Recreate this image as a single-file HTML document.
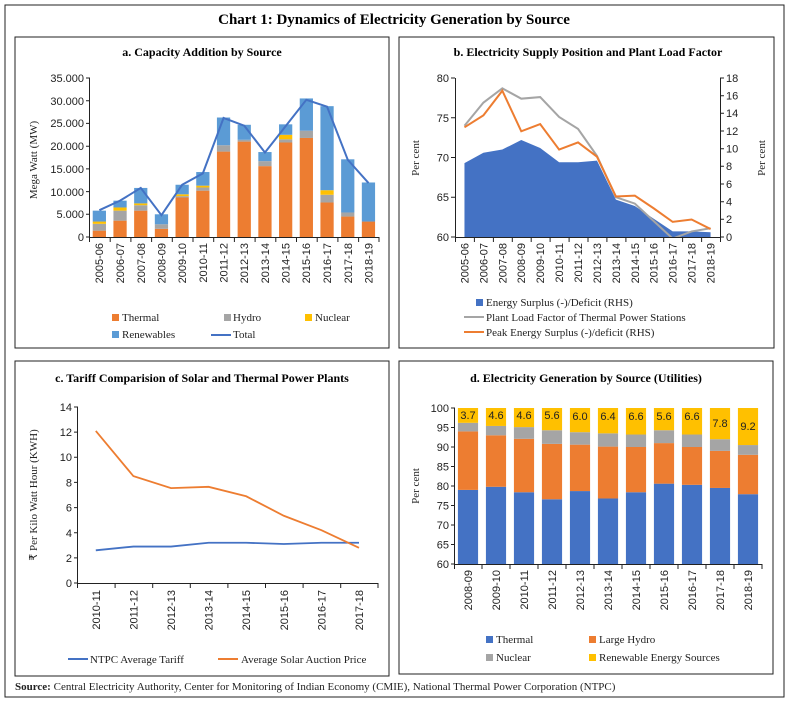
<!DOCTYPE html>
<html><head><meta charset="utf-8"><style>
html,body{margin:0;padding:0;background:#fff;}
svg{display:block;}
.t{font-family:"Liberation Serif",serif;font-weight:bold;}
.s{font-family:"Liberation Sans",sans-serif;font-size:11px;fill:#222;}
.l{font-family:"Liberation Serif",serif;font-size:11px;fill:#222;}
</style></head><body>
<svg width="789" height="703" viewBox="0 0 789 703" xmlns="http://www.w3.org/2000/svg">
<rect x="5" y="5" width="779" height="692" fill="none" stroke="#222" stroke-width="1"/>
<text x="394" y="24" text-anchor="middle" class="t" font-size="15">Chart 1: Dynamics of Electricity Generation by Source</text>
<rect x="15" y="37" width="374" height="311" fill="none" stroke="#222"/>
<rect x="399" y="37" width="375" height="311" fill="none" stroke="#222"/>
<rect x="15" y="361" width="374" height="315" fill="none" stroke="#222"/>
<rect x="399" y="361" width="374" height="313" fill="none" stroke="#222"/>
<text x="15" y="690" class="l"><tspan font-weight="bold">Source:</tspan> Central Electricity Authority, Center for Monitoring of Indian Economy (CMIE), National Thermal Power Corporation (NTPC)</text>

<!-- Panel a -->
<text x="202" y="56" text-anchor="middle" class="t" font-size="12">a. Capacity Addition by Source</text>
<g transform="translate(89,237) scale(20.7,-4.543)">
<g fill="#ED7D31">
<rect x="0.18" y="0" width="0.64" height="1.4"/><rect x="1.18" y="0" width="0.64" height="3.6"/><rect x="2.18" y="0" width="0.64" height="5.8"/><rect x="3.18" y="0" width="0.64" height="1.8"/><rect x="4.18" y="0" width="0.64" height="8.7"/><rect x="5.18" y="0" width="0.64" height="10.2"/><rect x="6.18" y="0" width="0.64" height="18.8"/><rect x="7.18" y="0" width="0.64" height="21.0"/><rect x="8.18" y="0" width="0.64" height="15.6"/><rect x="9.18" y="0" width="0.64" height="20.8"/><rect x="10.18" y="0" width="0.64" height="21.8"/><rect x="11.18" y="0" width="0.64" height="7.6"/><rect x="12.18" y="0" width="0.64" height="4.5"/><rect x="13.18" y="0" width="0.64" height="3.4"/>
</g>
<g fill="#A5A5A5">
<rect x="0.18" y="1.4" width="0.64" height="1.5"/><rect x="1.18" y="3.6" width="0.64" height="2.2"/><rect x="2.18" y="5.8" width="0.64" height="1.2"/><rect x="3.18" y="1.8" width="0.64" height="1.0"/><rect x="4.18" y="8.7" width="0.64" height="0.3"/><rect x="5.18" y="10.2" width="0.64" height="0.7"/><rect x="6.18" y="18.8" width="0.64" height="1.4"/><rect x="7.18" y="21.0" width="0.64" height="0.4"/><rect x="8.18" y="15.6" width="0.64" height="1.1"/><rect x="9.18" y="20.8" width="0.64" height="0.7"/><rect x="10.18" y="21.8" width="0.64" height="1.6"/><rect x="11.18" y="7.6" width="0.64" height="1.7"/><rect x="12.18" y="4.5" width="0.64" height="0.9"/>
</g>
<g fill="#FFC000">
<rect x="0.18" y="2.9" width="0.64" height="0.5"/><rect x="1.18" y="5.8" width="0.64" height="0.7"/><rect x="2.18" y="7.0" width="0.64" height="0.4"/><rect x="4.18" y="9.0" width="0.64" height="0.4"/><rect x="5.18" y="10.9" width="0.64" height="0.4"/><rect x="9.18" y="21.5" width="0.64" height="1.0"/><rect x="11.18" y="9.3" width="0.64" height="1.0"/>
</g>
<g fill="#5B9BD5">
<rect x="0.18" y="3.4" width="0.64" height="2.4"/><rect x="1.18" y="6.5" width="0.64" height="1.5"/><rect x="2.18" y="7.4" width="0.64" height="3.4"/><rect x="3.18" y="2.8" width="0.64" height="2.2"/><rect x="4.18" y="9.4" width="0.64" height="2.1"/><rect x="5.18" y="11.3" width="0.64" height="3.0"/><rect x="6.18" y="20.2" width="0.64" height="6.1"/><rect x="7.18" y="21.4" width="0.64" height="3.3"/><rect x="8.18" y="16.7" width="0.64" height="2.0"/><rect x="9.18" y="22.5" width="0.64" height="2.3"/><rect x="10.18" y="23.4" width="0.64" height="7.1"/><rect x="11.18" y="10.3" width="0.64" height="18.5"/><rect x="12.18" y="5.4" width="0.64" height="11.7"/><rect x="13.18" y="3.4" width="0.64" height="8.6"/>
</g>
<polyline fill="none" stroke="#4472C4" stroke-width="2" vector-effect="non-scaling-stroke" points="0.5,5.9 1.5,8.0 2.5,10.8 3.5,4.8 4.5,11.5 5.5,14.0 6.5,26.2 7.5,24.5 8.5,18.6 9.5,24.4 10.5,30.2 11.5,28.7 12.5,17.0 13.5,11.9"/>
</g>
<g stroke="#222" stroke-width="1" fill="none">
<path d="M89.5,78V237.5H379"/>
<path d="M86,78h4M86,100.7h4M86,123.4h4M86,146.2h4M86,168.9h4M86,191.6h4M86,214.3h4M86,237h4"/>
<path d="M89.5,237v5M110.2,237v5M130.9,237v5M151.6,237v5M172.3,237v5M193,237v5M213.7,237v5M234.4,237v5M255.1,237v5M275.8,237v5M296.5,237v5M317.2,237v5M337.9,237v5M358.6,237v5M379,237v5"/>
</g>
<g class="s" text-anchor="end">
<text x="84" y="82">35.000</text><text x="84" y="105">30.000</text><text x="84" y="127">25.000</text><text x="84" y="150">20.000</text><text x="84" y="173">15.000</text><text x="84" y="196">10.000</text><text x="84" y="218">5.000</text><text x="84" y="241">0</text>
</g>
<text transform="translate(37,160) rotate(-90)" text-anchor="middle" class="l">Mega Watt (MW)</text>
<g class="s" text-anchor="end">
<text transform="translate(103,243) rotate(-90)">2005-06</text><text transform="translate(124,243) rotate(-90)">2006-07</text><text transform="translate(145,243) rotate(-90)">2007-08</text><text transform="translate(165.5,243) rotate(-90)">2008-09</text><text transform="translate(186,243) rotate(-90)">2009-10</text><text transform="translate(207,243) rotate(-90)">2010-11</text><text transform="translate(227.5,243) rotate(-90)">2011-12</text><text transform="translate(248,243) rotate(-90)">2012-13</text><text transform="translate(269,243) rotate(-90)">2013-14</text><text transform="translate(289.5,243) rotate(-90)">2014-15</text><text transform="translate(310,243) rotate(-90)">2015-16</text><text transform="translate(331,243) rotate(-90)">2016-17</text><text transform="translate(352,243) rotate(-90)">2017-18</text><text transform="translate(372.5,243) rotate(-90)">2018-19</text>
</g>
<rect x="112" y="314" width="7" height="7" fill="#ED7D31"/><text x="122" y="321" class="l">Thermal</text>
<rect x="224" y="314" width="7" height="7" fill="#A5A5A5"/><text x="233" y="321" class="l">Hydro</text>
<rect x="305" y="314" width="7" height="7" fill="#FFC000"/><text x="315" y="321" class="l">Nuclear</text>
<rect x="112" y="331" width="7" height="7" fill="#5B9BD5"/><text x="122" y="338" class="l">Renewables</text>
<line x1="211" y1="335" x2="231" y2="335" stroke="#4472C4" stroke-width="2"/><text x="233" y="338" class="l">Total</text>

<!-- Panel b -->
<text x="588" y="56" text-anchor="middle" class="t" font-size="12">b. Electricity Supply Position and Plant Load Factor</text>
<g transform="translate(455,237) scale(18.93,-7.95)">
<polygon fill="#4472C4" points="0.5,0 0.5,9.3 1.5,10.6 2.5,11.0 3.5,12.2 4.5,11.2 5.5,9.4 6.5,9.4 7.5,9.6 8.5,4.7 9.5,3.9 10.5,2.3 11.5,0.7 12.5,0.7 13.5,0.6 13.5,0"/>
<polyline fill="none" stroke="#A5A5A5" stroke-width="2" vector-effect="non-scaling-stroke" points="0.5,14.0 1.5,16.9 2.5,18.7 3.5,17.4 4.5,17.6 5.5,15.1 6.5,13.6 7.5,10.2 8.5,5.0 9.5,4.2 10.5,2.0 11.5,-0.2 12.5,0.7 13.5,1.1"/>
<polyline fill="none" stroke="#ED7D31" stroke-width="2" vector-effect="non-scaling-stroke" points="0.5,13.8 1.5,15.3 2.5,18.4 3.5,13.3 4.5,14.2 5.5,11.0 6.5,11.9 7.5,10.1 8.5,5.1 9.5,5.2 10.5,3.6 11.5,1.9 12.5,2.2 13.5,1.0"/>
</g>
<rect x="440" y="238" width="300" height="6" fill="#fff"/>
<g stroke="#222" stroke-width="1" fill="none">
<path d="M455.5,78V237.5H720.5V78"/>
<path d="M451,78h4M451,117.75h4M451,157.5h4M451,197.25h4M451,237h4"/>
<path d="M720,78h4M720,95.7h4M720,113.3h4M720,131h4M720,148.7h4M720,166.3h4M720,184h4M720,201.7h4M720,219.3h4M720,237h4"/>
<path d="M455.5,237v5M474.4,237v5M493.4,237v5M512.3,237v5M531.2,237v5M550.1,237v5M569.1,237v5M588,237v5M606.9,237v5M625.9,237v5M644.8,237v5M663.7,237v5M682.6,237v5M701.6,237v5M720.5,237v5"/>
</g>
<g class="s" text-anchor="end">
<text x="449" y="82">80</text><text x="449" y="122">75</text><text x="449" y="161.5">70</text><text x="449" y="201">65</text><text x="449" y="241">60</text>
</g>
<g class="s" text-anchor="start">
<text x="726" y="82">18</text><text x="726" y="99.5">16</text><text x="726" y="117">14</text><text x="726" y="135">12</text><text x="726" y="152.5">10</text><text x="726" y="170">8</text><text x="726" y="188">6</text><text x="726" y="205.5">4</text><text x="726" y="223">2</text><text x="726" y="241">0</text>
</g>
<text transform="translate(419,158) rotate(-90)" text-anchor="middle" class="l">Per cent</text>
<text transform="translate(765,158) rotate(-90)" text-anchor="middle" class="l">Per cent</text>
<g class="s" text-anchor="end">
<text transform="translate(468.5,243) rotate(-90)">2005-06</text><text transform="translate(487.4,243) rotate(-90)">2006-07</text><text transform="translate(506.3,243) rotate(-90)">2007-08</text><text transform="translate(525.2,243) rotate(-90)">2008-09</text><text transform="translate(544.2,243) rotate(-90)">2009-10</text><text transform="translate(563.1,243) rotate(-90)">2010-11</text><text transform="translate(582,243) rotate(-90)">2011-12</text><text transform="translate(600.9,243) rotate(-90)">2012-13</text><text transform="translate(619.9,243) rotate(-90)">2013-14</text><text transform="translate(638.8,243) rotate(-90)">2014-15</text><text transform="translate(657.7,243) rotate(-90)">2015-16</text><text transform="translate(676.6,243) rotate(-90)">2016-17</text><text transform="translate(695.5,243) rotate(-90)">2017-18</text><text transform="translate(714.5,243) rotate(-90)">2018-19</text>
</g>
<rect x="476" y="299" width="7" height="7" fill="#4472C4"/><text x="486" y="306" class="l">Energy Surplus (-)/Deficit (RHS)</text>
<line x1="464" y1="317" x2="484" y2="317" stroke="#A5A5A5" stroke-width="2"/><text x="486" y="321" class="l">Plant Load Factor of Thermal Power Stations</text>
<line x1="464" y1="332" x2="484" y2="332" stroke="#ED7D31" stroke-width="2"/><text x="486" y="336" class="l">Peak Energy  Surplus (-)/deficit (RHS)</text>

<!-- Panel c -->
<text x="202" y="382" text-anchor="middle" class="t" font-size="12">c. Tariff Comparision of Solar and Thermal Power Plants</text>
<g transform="translate(77,583) scale(37.6,-12.57)">
<polyline fill="none" stroke="#4472C4" stroke-width="1.8" vector-effect="non-scaling-stroke" points="0.5,2.6 1.5,2.9 2.5,2.9 3.5,3.2 4.5,3.2 5.5,3.1 6.5,3.2 7.5,3.2"/>
<polyline fill="none" stroke="#ED7D31" stroke-width="1.8" vector-effect="non-scaling-stroke" points="0.5,12.1 1.5,8.5 2.5,7.55 3.5,7.65 4.5,6.9 5.5,5.35 6.5,4.2 7.5,2.8"/>
</g>
<g stroke="#222" stroke-width="1" fill="none">
<path d="M77.5,407V583.5H378"/>
<path d="M74,407h4M74,432.1h4M74,457.3h4M74,482.4h4M74,507.6h4M74,532.7h4M74,557.9h4M74,583h4"/>
<path d="M77.5,583v5M115.1,583v5M152.7,583v5M190.3,583v5M227.9,583v5M265.5,583v5M303.1,583v5M340.7,583v5M378,583v5"/>
</g>
<g class="s" text-anchor="end">
<text x="72" y="411">14</text><text x="72" y="436">12</text><text x="72" y="461">10</text><text x="72" y="486.5">8</text><text x="72" y="511.5">6</text><text x="72" y="537">4</text><text x="72" y="562">2</text><text x="72" y="587">0</text>
</g>
<text transform="translate(37,495) rotate(-90)" text-anchor="middle" class="l">₹ Per Kilo Watt Hour (KWH)</text>
<g class="s" text-anchor="end">
<text transform="translate(99.8,590) rotate(-90)">2010-11</text><text transform="translate(137.4,590) rotate(-90)">2011-12</text><text transform="translate(175,590) rotate(-90)">2012-13</text><text transform="translate(212.6,590) rotate(-90)">2013-14</text><text transform="translate(250.2,590) rotate(-90)">2014-15</text><text transform="translate(287.8,590) rotate(-90)">2015-16</text><text transform="translate(325.4,590) rotate(-90)">2016-17</text><text transform="translate(363,590) rotate(-90)">2017-18</text>
</g>
<line x1="68" y1="659" x2="88" y2="659" stroke="#4472C4" stroke-width="2"/><text x="90" y="663" class="l">NTPC Average Tariff</text>
<line x1="218" y1="659" x2="238" y2="659" stroke="#ED7D31" stroke-width="2"/><text x="241" y="663" class="l">Average Solar Auction Price</text>

<!-- Panel d -->
<text x="586" y="382" text-anchor="middle" class="t" font-size="12">d. Electricity Generation by Source (Utilities)</text>
<g transform="translate(454,564) scale(28,-3.9)">
<g fill="#4472C4">
<rect x="0.14" y="0" width="0.72" height="19.0"/><rect x="1.14" y="0" width="0.72" height="19.8"/><rect x="2.14" y="0" width="0.72" height="18.4"/><rect x="3.14" y="0" width="0.72" height="16.6"/><rect x="4.14" y="0" width="0.72" height="18.7"/><rect x="5.14" y="0" width="0.72" height="16.8"/><rect x="6.14" y="0" width="0.72" height="18.4"/><rect x="7.14" y="0" width="0.72" height="20.6"/><rect x="8.14" y="0" width="0.72" height="20.3"/><rect x="9.14" y="0" width="0.72" height="19.5"/><rect x="10.14" y="0" width="0.72" height="17.9"/>
</g>
<g fill="#ED7D31">
<rect x="0.14" y="19.0" width="0.72" height="15.0"/><rect x="1.14" y="19.8" width="0.72" height="13.2"/><rect x="2.14" y="18.4" width="0.72" height="13.7"/><rect x="3.14" y="16.6" width="0.72" height="14.2"/><rect x="4.14" y="18.7" width="0.72" height="11.9"/><rect x="5.14" y="16.8" width="0.72" height="13.3"/><rect x="6.14" y="18.4" width="0.72" height="11.6"/><rect x="7.14" y="20.6" width="0.72" height="10.4"/><rect x="8.14" y="20.3" width="0.72" height="9.7"/><rect x="9.14" y="19.5" width="0.72" height="9.5"/><rect x="10.14" y="17.9" width="0.72" height="10.1"/>
</g>
<g fill="#A5A5A5">
<rect x="0.14" y="34.0" width="0.72" height="2.2"/><rect x="1.14" y="33.0" width="0.72" height="2.4"/><rect x="2.14" y="32.1" width="0.72" height="3.0"/><rect x="3.14" y="30.8" width="0.72" height="3.5"/><rect x="4.14" y="30.6" width="0.72" height="3.2"/><rect x="5.14" y="30.1" width="0.72" height="3.4"/><rect x="6.14" y="30.0" width="0.72" height="3.2"/><rect x="7.14" y="31.0" width="0.72" height="3.3"/><rect x="8.14" y="30.0" width="0.72" height="3.2"/><rect x="9.14" y="29.0" width="0.72" height="3.0"/><rect x="10.14" y="28.0" width="0.72" height="2.5"/>
</g>
<g fill="#FFC000">
<rect x="0.14" y="36.2" width="0.72" height="3.8"/><rect x="1.14" y="35.4" width="0.72" height="4.6"/><rect x="2.14" y="35.1" width="0.72" height="4.9"/><rect x="3.14" y="34.3" width="0.72" height="5.7"/><rect x="4.14" y="33.8" width="0.72" height="6.2"/><rect x="5.14" y="33.5" width="0.72" height="6.5"/><rect x="6.14" y="33.2" width="0.72" height="6.8"/><rect x="7.14" y="34.3" width="0.72" height="5.7"/><rect x="8.14" y="33.2" width="0.72" height="6.8"/><rect x="9.14" y="32.0" width="0.72" height="8.0"/><rect x="10.14" y="30.5" width="0.72" height="9.5"/>
</g>
</g>
<g class="s" text-anchor="middle" font-size="11">
<text x="468" y="419">3.7</text><text x="496" y="419">4.6</text><text x="524" y="419">4.6</text><text x="552" y="419">5.6</text><text x="580" y="420">6.0</text><text x="608" y="420">6.4</text><text x="636" y="420">6.6</text><text x="664" y="420">5.6</text><text x="692" y="420">6.6</text><text x="720" y="427">7.8</text><text x="748" y="430">9.2</text>
</g>
<g stroke="#222" stroke-width="1" fill="none">
<path d="M454.5,408V564.5H762"/>
<path d="M451,408h4M451,427.5h4M451,447h4M451,466.5h4M451,486h4M451,505.5h4M451,525h4M451,544.5h4M451,564h4"/>
<path d="M454.5,564v5M482,564v5M510,564v5M538,564v5M566,564v5M594,564v5M622,564v5M650,564v5M678,564v5M706,564v5M734,564v5M762,564v5"/>
</g>
<g class="s" text-anchor="end">
<text x="449" y="412">100</text><text x="449" y="431.5">95</text><text x="449" y="451">90</text><text x="449" y="470.5">85</text><text x="449" y="490">80</text><text x="449" y="509.5">75</text><text x="449" y="529">70</text><text x="449" y="548.5">65</text><text x="449" y="568">60</text>
</g>
<text transform="translate(419,486) rotate(-90)" text-anchor="middle" class="l">Per cent</text>
<g class="s" text-anchor="end">
<text transform="translate(472,570) rotate(-90)">2008-09</text><text transform="translate(500,570) rotate(-90)">2009-10</text><text transform="translate(528,570) rotate(-90)">2010-11</text><text transform="translate(556,570) rotate(-90)">2011-12</text><text transform="translate(584,570) rotate(-90)">2012-13</text><text transform="translate(612,570) rotate(-90)">2013-14</text><text transform="translate(640,570) rotate(-90)">2014-15</text><text transform="translate(668,570) rotate(-90)">2015-16</text><text transform="translate(696,570) rotate(-90)">2016-17</text><text transform="translate(724,570) rotate(-90)">2017-18</text><text transform="translate(752,570) rotate(-90)">2018-19</text>
</g>
<rect x="486" y="636" width="7" height="7" fill="#4472C4"/><text x="496" y="643" class="l">Thermal</text>
<rect x="589" y="636" width="7" height="7" fill="#ED7D31"/><text x="599" y="643" class="l">Large Hydro</text>
<rect x="486" y="654" width="7" height="7" fill="#A5A5A5"/><text x="496" y="661" class="l">Nuclear</text>
<rect x="589" y="654" width="7" height="7" fill="#FFC000"/><text x="599" y="661" class="l">Renewable Energy Sources</text>
</svg>
</body></html>
